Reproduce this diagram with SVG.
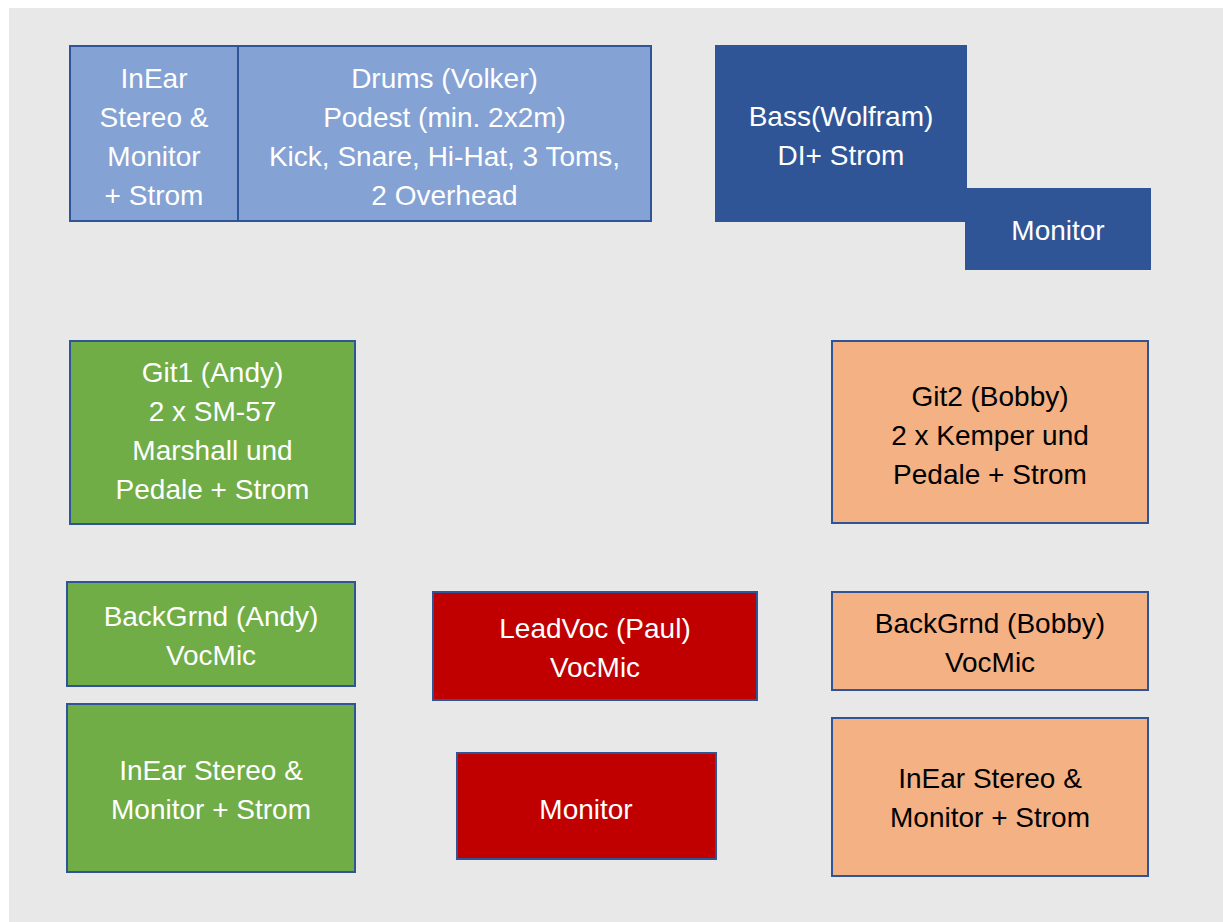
<svg xmlns="http://www.w3.org/2000/svg" width="1223" height="922" viewBox="0 0 1223 922">
<style>
  .box { stroke: #2F5597; stroke-width: 2; }
  .lb { fill: #84A2D3; }
  .db { fill: #2F5597; stroke-width: 1; }
  .gr { fill: #70AD47; }
  .or { fill: #F4B183; }
  .rd { fill: #C00000; }
  text { font-family: "Liberation Sans", Arial, sans-serif; font-size: 28px; text-anchor: middle; }
  .w { fill: #FFFFFF; }
  .k { fill: #000000; }
</style>
<rect x="9" y="8" width="1214" height="914" fill="#E8E8E8"/>
<g id="connectors"/>
<g id="drums">
  <rect class="box lb" x="238" y="46" width="413" height="175"/>
  <text class="w" x="444.5" y="88">Drums (Volker)</text>
  <text class="w" x="444.5" y="127">Podest (min. 2x2m)</text>
  <text class="w" x="444.5" y="166">Kick, Snare, Hi-Hat, 3 Toms,</text>
  <text class="w" x="444.5" y="205">2 Overhead</text>
</g>
<g id="inear-drums">
  <rect class="box lb" x="70" y="46" width="168" height="175"/>
  <text class="w" x="154" y="88">InEar</text>
  <text class="w" x="154" y="127">Stereo &amp;</text>
  <text class="w" x="154" y="166">Monitor</text>
  <text class="w" x="154" y="205">+ Strom</text>
</g>
<g id="bass">
  <rect class="box db" x="715.5" y="45.5" width="251" height="176"/>
  <text class="w" x="841" y="126">Bass(Wolfram)</text>
  <text class="w" x="841" y="165">DI+ Strom</text>
</g>
<g id="bass-monitor">
  <rect class="box db" x="965.5" y="188.5" width="185" height="81"/>
  <text class="w" x="1058" y="240">Monitor</text>
</g>
<g id="git1">
  <rect class="box gr" x="70" y="341" width="285" height="183"/>
  <text class="w" x="212.5" y="382">Git1 (Andy)</text>
  <text class="w" x="212.5" y="421">2 x SM-57</text>
  <text class="w" x="212.5" y="460">Marshall und</text>
  <text class="w" x="212.5" y="499">Pedale + Strom</text>
</g>
<g id="git2">
  <rect class="box or" x="832" y="341" width="316" height="182"/>
  <text class="k" x="990" y="406">Git2 (Bobby)</text>
  <text class="k" x="990" y="445">2 x Kemper und</text>
  <text class="k" x="990" y="484">Pedale + Strom</text>
</g>
<g id="backgrnd-andy">
  <rect class="box gr" x="67" y="582" width="288" height="104"/>
  <text class="w" x="211" y="626">BackGrnd (Andy)</text>
  <text class="w" x="211" y="665">VocMic</text>
</g>
<g id="inear-andy">
  <rect class="box gr" x="67" y="704" width="288" height="168"/>
  <text class="w" x="211" y="780">InEar Stereo &amp;</text>
  <text class="w" x="211" y="819">Monitor + Strom</text>
</g>
<g id="leadvoc">
  <rect class="box rd" x="433" y="592" width="324" height="108"/>
  <text class="w" x="595" y="638">LeadVoc (Paul)</text>
  <text class="w" x="595" y="677">VocMic</text>
</g>
<g id="leadvoc-monitor">
  <rect class="box rd" x="457" y="753" width="259" height="106"/>
  <text class="w" x="586" y="819">Monitor</text>
</g>
<g id="backgrnd-bobby">
  <rect class="box or" x="832" y="592" width="316" height="98"/>
  <text class="k" x="990" y="633">BackGrnd (Bobby)</text>
  <text class="k" x="990" y="672">VocMic</text>
</g>
<g id="inear-bobby">
  <rect class="box or" x="832" y="718" width="316" height="158"/>
  <text class="k" x="990" y="788">InEar Stereo &amp;</text>
  <text class="k" x="990" y="827">Monitor + Strom</text>
</g>
</svg>
